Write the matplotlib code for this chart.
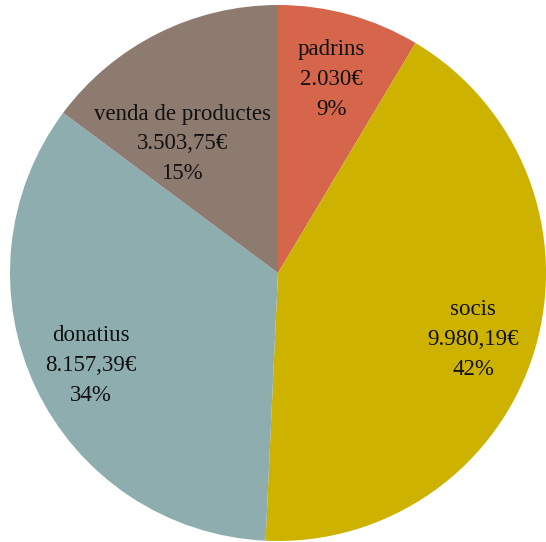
import numpy as np
import matplotlib.pyplot as plt

labels = ['padrins', 'socis', 'donatius', 'venda de productes']
values = [2030.00, 9980.19, 8157.39, 3503.75]
amounts = ['2.030€', '9.980,19€', '8.157,39€', '3.503,75€']
colors = ['#D5654B', '#CDB300', '#8EADAE', '#8E7B70']

plt.rcParams['font.family'] = ['Liberation Serif', 'DejaVu Serif']

fig = plt.figure(figsize=(5.46, 5.42), dpi=100)
ax = fig.add_axes([0, 0, 1, 1])
wedges, _ = ax.pie(values, colors=colors, startangle=90, counterclock=False,
                   radius=1, wedgeprops=dict(linewidth=0))

total = sum(values)
label_r = [0.75, 0.77, 0.78, 0.60]
label_shift = [0, -2, 1, 10]
for w, name, amt, v, r, s in zip(wedges, labels, amounts, values, label_r, label_shift):
    ang = np.deg2rad((w.theta1 + w.theta2) / 2 + s)
    pct = round(v / total * 100)
    ax.text(r * np.cos(ang), r * np.sin(ang), f'{name}\n{amt}\n{pct}%',
            ha='center', va='center', fontsize=16.5, linespacing=1.55, color='#111111')

R = 268
ax.set_xlim(-278 / R, (546 - 278) / R)
ax.set_ylim(-(542 - 273) / R, 273 / R)
ax.set_aspect('auto')
ax.axis('off')
fig.savefig('out.png', dpi=100)
